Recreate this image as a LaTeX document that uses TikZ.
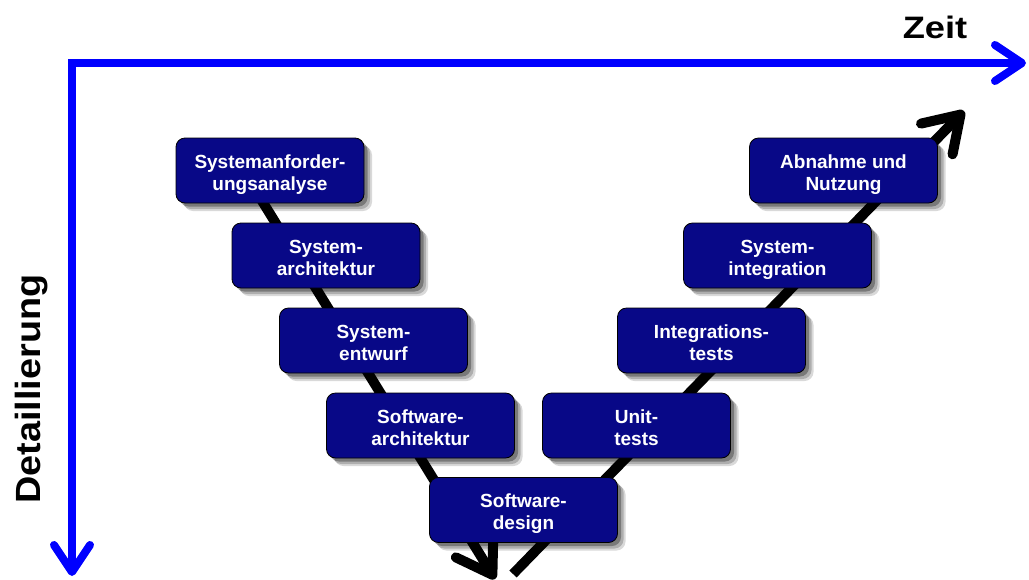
\documentclass[tikz,border=0pt]{standalone}
\usepackage{fontspec}
\setmainfont{Liberation Sans}
\usetikzlibrary{arrows.meta,shadows}
\definecolor{boxblue}{RGB}{8,8,135}
\definecolor{axisblue}{RGB}{0,0,255}
\newcommand{\vtext}[2]{\raisebox{-4.5pt}[\height][\depth]{\begin{tabular}{@{}c@{}}#1\\#2\end{tabular}}}
\begin{document}
\begin{tikzpicture}[x=1pt,y=-1pt,
  vbox/.style={draw=black, line width=0.8pt, fill=boxblue, rounded corners=9pt,
    minimum width=188pt, minimum height=65pt, inner sep=0pt, text=white,
    font=\bfseries\fontsize{19}{22}\selectfont,
    drop shadow={shadow xshift=8pt, shadow yshift=-8pt, opacity=0.15, fill=black},
    drop shadow={shadow xshift=6pt, shadow yshift=-6pt, opacity=0.2, fill=black},
    drop shadow={shadow xshift=3.5pt, shadow yshift=-3.5pt, opacity=0.3, fill=black}},
  axisline/.style={draw=axisblue, line width=8pt, line join=miter,
    {Straight Barb[length=27pt,width=36pt,round]}-{Straight Barb[length=27pt,width=36pt,round]}},
  vline/.style={draw=black, line width=10pt,
    -{Straight Barb[length=34pt,width=44pt,round]}},
  axislabel/.style={font=\bfseries, inner sep=0pt}]
\useasboundingbox (0,0) rectangle (1029,579);
% axes
\coordinate (O) at (72,63);
\coordinate (Yend) at (72,576);
\coordinate (Xend) at (1026,63);
\draw[axisline] (Yend) -- (O) -- (Xend);
\node[axislabel] (zeit) at (935,27) {\fontsize{31}{31}\selectfont\scalebox{1.17}[1]{Zeit}};
\node[axislabel, rotate=90] (detail) at (32,389) {\fontsize{35}{35}\selectfont\scalebox{1.08}[1]{Detaillierung}};
% V line
\coordinate (L0) at (243,170);
\coordinate (L1) at (495,579);
\coordinate (R0) at (513,574);
\coordinate (R1) at (964,111);
\draw[vline] (L0) -- (L1);
\draw[vline] (R0) -- (R1);
% boxes
\node[vbox] (b1) at (270,170.5) {\vtext{Systemanforder-}{ungsanalyse}};
\node[vbox] (b2) at (326,255.5) {\vtext{System-}{architektur}};
\node[vbox] (b3) at (373.5,340.5) {\vtext{System-}{entwurf}};
\node[vbox] (b4) at (420.5,425.5) {\vtext{Software-}{architektur}};
\node[vbox] (b5) at (523.5,510) {\vtext{Software-}{design}};
\node[vbox] (b6) at (636.5,425.5) {\vtext{Unit-}{tests}};
\node[vbox] (b7) at (711.5,340.5) {\vtext{Integrations-}{tests}};
\node[vbox] (b8) at (777.5,255.5) {\vtext{System-}{integration}};
\node[vbox] (b9) at (843.5,170.5) {\vtext{Abnahme und}{Nutzung}};
\end{tikzpicture}
\end{document}
